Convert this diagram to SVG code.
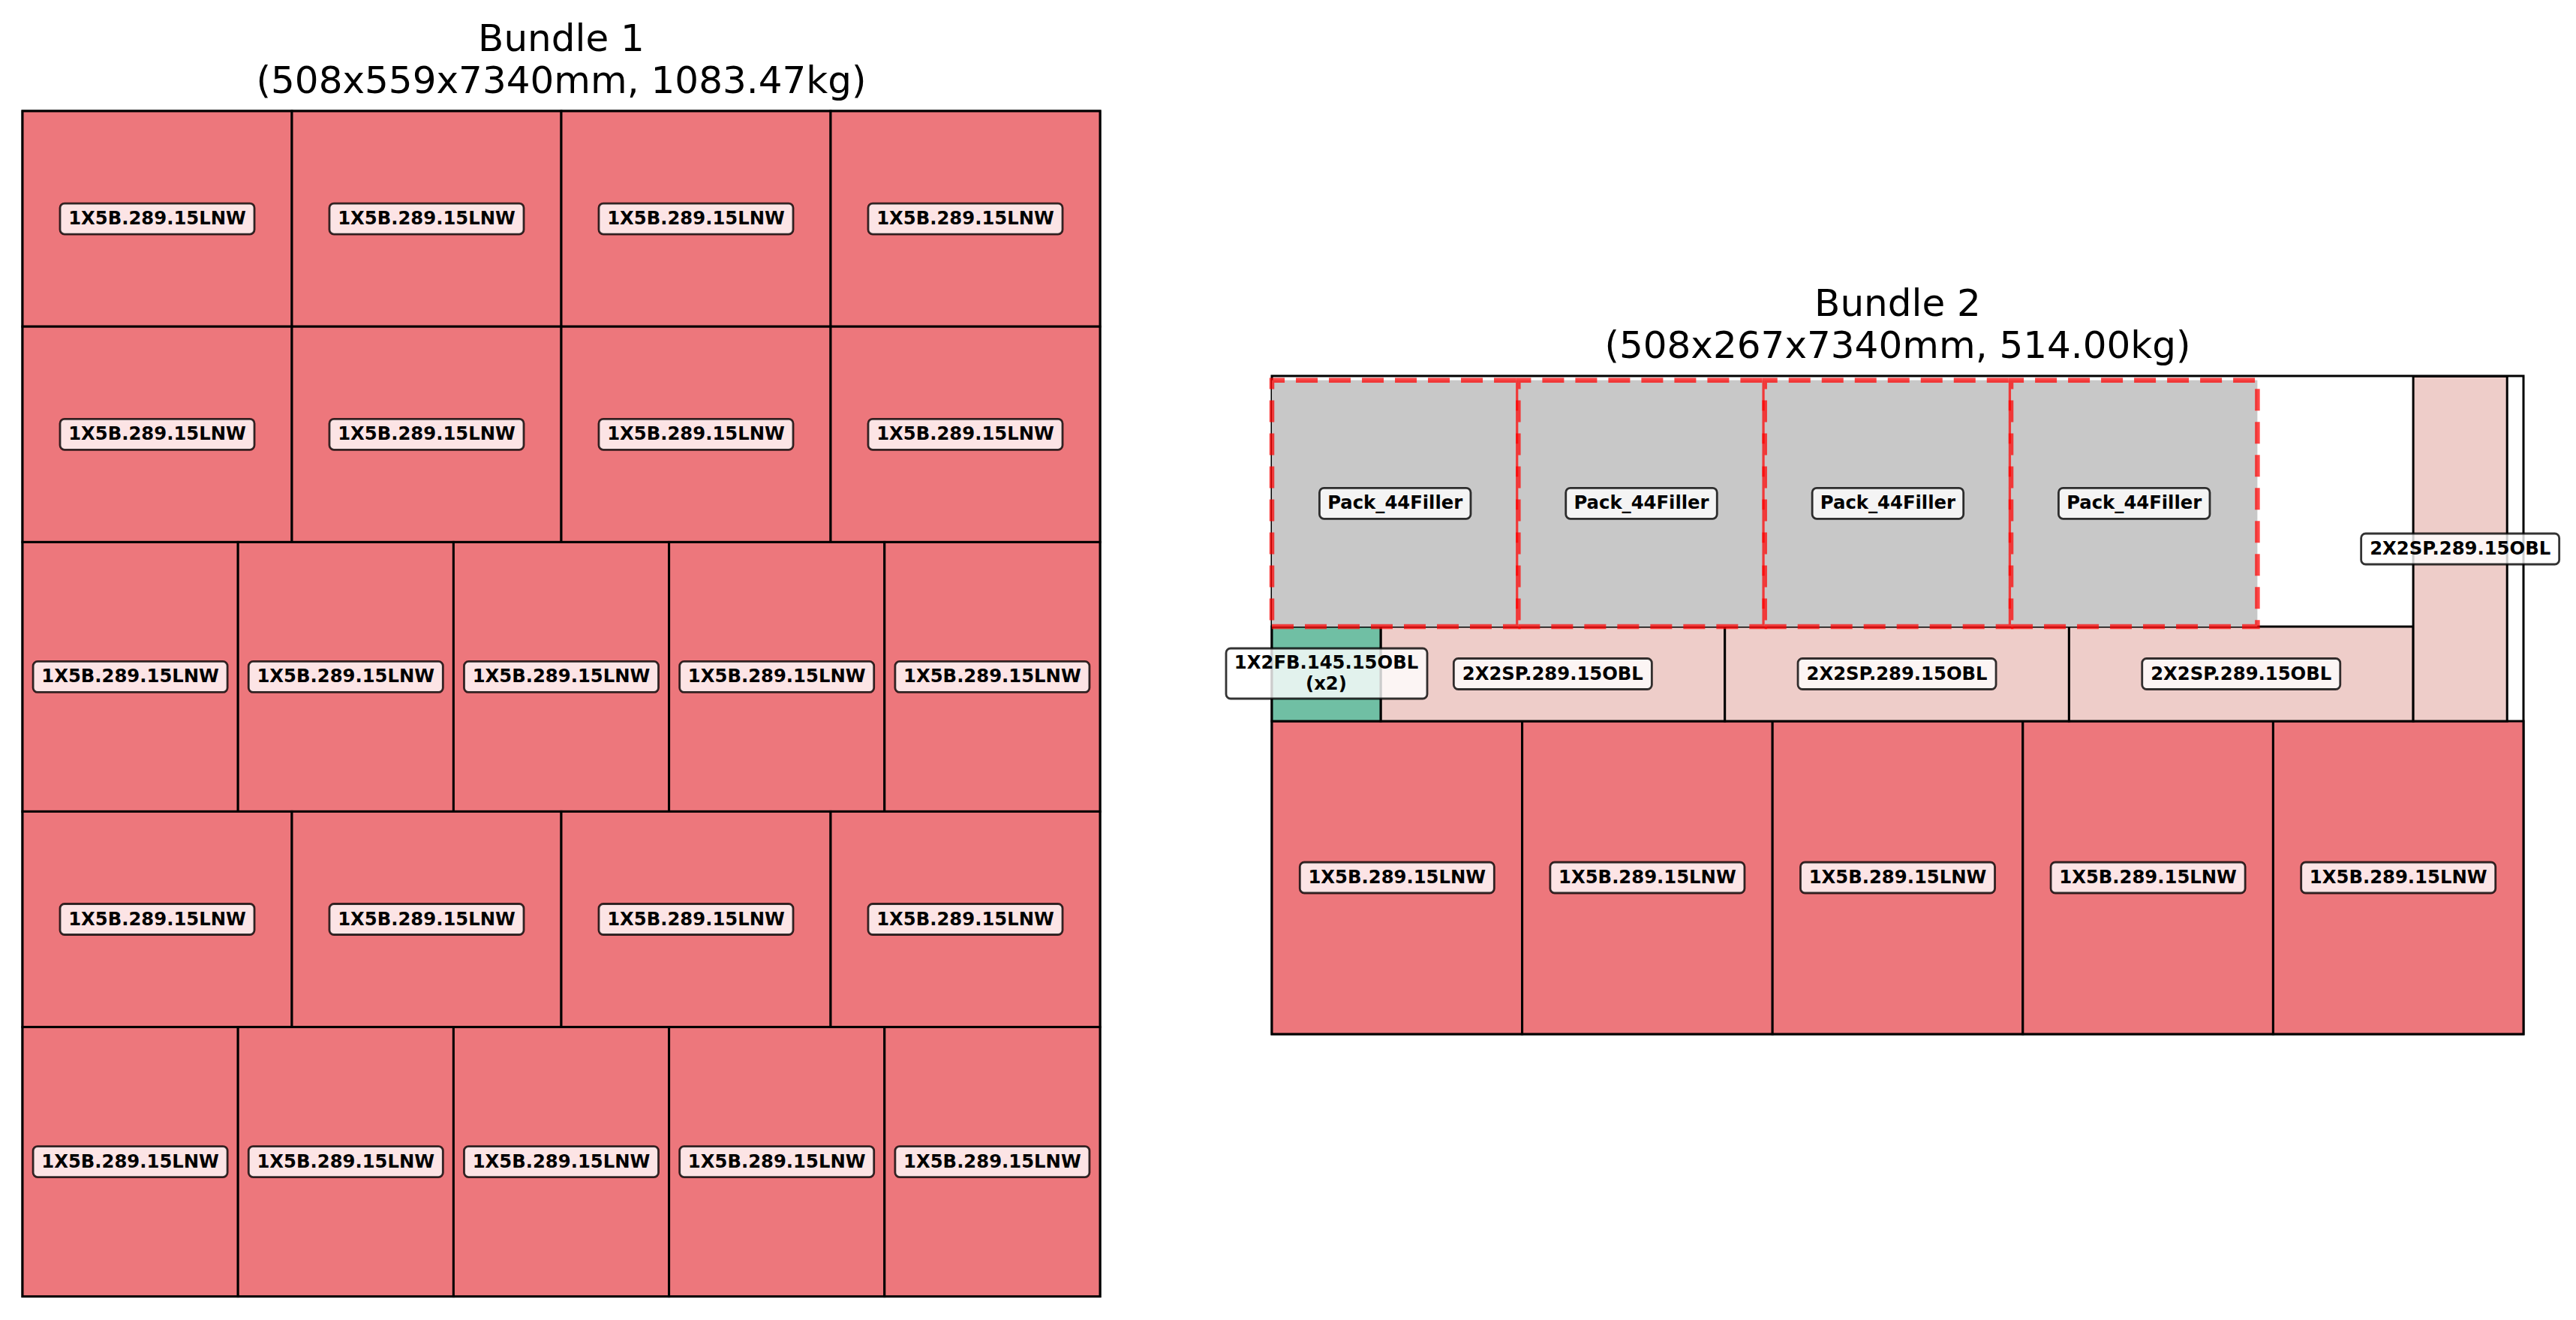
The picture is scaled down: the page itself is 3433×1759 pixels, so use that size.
<svg xmlns="http://www.w3.org/2000/svg" width="3433" height="1759" viewBox="0 0 3433 1759">
<defs>
<style>
.frame{fill:#fff;stroke:#000;stroke-width:3}
.cell{stroke:#000;stroke-width:3}
.red{fill:#ED777C}
.pink{fill:#EECDC9}
.green{fill:#70BFA4}
.filler{fill:#C8C8C8}
.dash{fill:none;stroke:#FF0000;stroke-opacity:0.72;stroke-width:6.5;stroke-dasharray:29 15}
.lb{fill:#fff;fill-opacity:0.8;stroke:#000;stroke-opacity:0.8;stroke-width:2.8}
.lt{font-family:"DejaVu Sans","Liberation Sans",sans-serif;font-weight:bold;font-size:24.3px;text-anchor:middle;fill:#000}
.title{font-family:"DejaVu Sans","Liberation Sans",sans-serif;font-size:50px;text-anchor:middle;fill:#000}
</style>
</defs>
<rect width="3433" height="1759" fill="#fff"/>

<g id="titles">
<text class="title" x="748" y="68">Bundle 1</text>
<text class="title" x="748" y="124">(508x559x7340mm, 1083.47kg)</text>
<text class="title" x="2529" y="421">Bundle 2</text>
<text class="title" x="2529" y="477">(508x267x7340mm, 514.00kg)</text>
</g>

<g id="bundle1-frame"><rect class="frame" x="30" y="148" width="1436" height="1579.6"/></g>
<g id="bundle2-frame"><rect class="frame" x="1695" y="501" width="1668" height="877"/></g>

<!-- Bundle 1 row 1 -->
<g id="b1-r1c1"><rect class="cell red" x="30" y="148" width="359" height="287.2"/><rect class="lb" x="80" y="271.1" width="259" height="41" rx="6"/><text class="lt" x="209.5" y="299.1">1X5B.289.15LNW</text></g>
<g id="b1-r1c2"><rect class="cell red" x="389" y="148" width="359" height="287.2"/><rect class="lb" x="439" y="271.1" width="259" height="41" rx="6"/><text class="lt" x="568.5" y="299.1">1X5B.289.15LNW</text></g>
<g id="b1-r1c3"><rect class="cell red" x="748" y="148" width="359" height="287.2"/><rect class="lb" x="798" y="271.1" width="259" height="41" rx="6"/><text class="lt" x="927.5" y="299.1">1X5B.289.15LNW</text></g>
<g id="b1-r1c4"><rect class="cell red" x="1107" y="148" width="359" height="287.2"/><rect class="lb" x="1157" y="271.1" width="259" height="41" rx="6"/><text class="lt" x="1286.5" y="299.1">1X5B.289.15LNW</text></g>
<!-- row 2 -->
<g id="b1-r2c1"><rect class="cell red" x="30" y="435.2" width="359" height="287.2"/><rect class="lb" x="80" y="558.3" width="259" height="41" rx="6"/><text class="lt" x="209.5" y="586.3">1X5B.289.15LNW</text></g>
<g id="b1-r2c2"><rect class="cell red" x="389" y="435.2" width="359" height="287.2"/><rect class="lb" x="439" y="558.3" width="259" height="41" rx="6"/><text class="lt" x="568.5" y="586.3">1X5B.289.15LNW</text></g>
<g id="b1-r2c3"><rect class="cell red" x="748" y="435.2" width="359" height="287.2"/><rect class="lb" x="798" y="558.3" width="259" height="41" rx="6"/><text class="lt" x="927.5" y="586.3">1X5B.289.15LNW</text></g>
<g id="b1-r2c4"><rect class="cell red" x="1107" y="435.2" width="359" height="287.2"/><rect class="lb" x="1157" y="558.3" width="259" height="41" rx="6"/><text class="lt" x="1286.5" y="586.3">1X5B.289.15LNW</text></g>
<!-- row 3 -->
<g id="b1-r3c1"><rect class="cell red" x="30" y="722.4" width="287.2" height="359"/><rect class="lb" x="44.1" y="881.4" width="259" height="41" rx="6"/><text class="lt" x="173.6" y="909.4">1X5B.289.15LNW</text></g>
<g id="b1-r3c2"><rect class="cell red" x="317.2" y="722.4" width="287.2" height="359"/><rect class="lb" x="331.3" y="881.4" width="259" height="41" rx="6"/><text class="lt" x="460.8" y="909.4">1X5B.289.15LNW</text></g>
<g id="b1-r3c3"><rect class="cell red" x="604.4" y="722.4" width="287.2" height="359"/><rect class="lb" x="618.5" y="881.4" width="259" height="41" rx="6"/><text class="lt" x="748" y="909.4">1X5B.289.15LNW</text></g>
<g id="b1-r3c4"><rect class="cell red" x="891.6" y="722.4" width="287.2" height="359"/><rect class="lb" x="905.7" y="881.4" width="259" height="41" rx="6"/><text class="lt" x="1035.2" y="909.4">1X5B.289.15LNW</text></g>
<g id="b1-r3c5"><rect class="cell red" x="1178.8" y="722.4" width="287.2" height="359"/><rect class="lb" x="1192.9" y="881.4" width="259" height="41" rx="6"/><text class="lt" x="1322.4" y="909.4">1X5B.289.15LNW</text></g>
<!-- row 4 -->
<g id="b1-r4c1"><rect class="cell red" x="30" y="1081.4" width="359" height="287.2"/><rect class="lb" x="80" y="1204.5" width="259" height="41" rx="6"/><text class="lt" x="209.5" y="1232.5">1X5B.289.15LNW</text></g>
<g id="b1-r4c2"><rect class="cell red" x="389" y="1081.4" width="359" height="287.2"/><rect class="lb" x="439" y="1204.5" width="259" height="41" rx="6"/><text class="lt" x="568.5" y="1232.5">1X5B.289.15LNW</text></g>
<g id="b1-r4c3"><rect class="cell red" x="748" y="1081.4" width="359" height="287.2"/><rect class="lb" x="798" y="1204.5" width="259" height="41" rx="6"/><text class="lt" x="927.5" y="1232.5">1X5B.289.15LNW</text></g>
<g id="b1-r4c4"><rect class="cell red" x="1107" y="1081.4" width="359" height="287.2"/><rect class="lb" x="1157" y="1204.5" width="259" height="41" rx="6"/><text class="lt" x="1286.5" y="1232.5">1X5B.289.15LNW</text></g>
<!-- row 5 -->
<g id="b1-r5c1"><rect class="cell red" x="30" y="1368.6" width="287.2" height="359"/><rect class="lb" x="44.1" y="1527.6" width="259" height="41" rx="6"/><text class="lt" x="173.6" y="1555.6">1X5B.289.15LNW</text></g>
<g id="b1-r5c2"><rect class="cell red" x="317.2" y="1368.6" width="287.2" height="359"/><rect class="lb" x="331.3" y="1527.6" width="259" height="41" rx="6"/><text class="lt" x="460.8" y="1555.6">1X5B.289.15LNW</text></g>
<g id="b1-r5c3"><rect class="cell red" x="604.4" y="1368.6" width="287.2" height="359"/><rect class="lb" x="618.5" y="1527.6" width="259" height="41" rx="6"/><text class="lt" x="748" y="1555.6">1X5B.289.15LNW</text></g>
<g id="b1-r5c4"><rect class="cell red" x="891.6" y="1368.6" width="287.2" height="359"/><rect class="lb" x="905.7" y="1527.6" width="259" height="41" rx="6"/><text class="lt" x="1035.2" y="1555.6">1X5B.289.15LNW</text></g>
<g id="b1-r5c5"><rect class="cell red" x="1178.8" y="1368.6" width="287.2" height="359"/><rect class="lb" x="1192.9" y="1527.6" width="259" height="41" rx="6"/><text class="lt" x="1322.4" y="1555.6">1X5B.289.15LNW</text></g>

<!-- Bundle 2 bottom row -->
<g id="b2-red1"><rect class="cell red" x="1695" y="961" width="333.6" height="417"/><rect class="lb" x="1732.3" y="1149" width="259" height="41" rx="6"/><text class="lt" x="1861.8" y="1177">1X5B.289.15LNW</text></g>
<g id="b2-red2"><rect class="cell red" x="2028.6" y="961" width="333.6" height="417"/><rect class="lb" x="2065.9" y="1149" width="259" height="41" rx="6"/><text class="lt" x="2195.4" y="1177">1X5B.289.15LNW</text></g>
<g id="b2-red3"><rect class="cell red" x="2362.2" y="961" width="333.6" height="417"/><rect class="lb" x="2399.5" y="1149" width="259" height="41" rx="6"/><text class="lt" x="2529" y="1177">1X5B.289.15LNW</text></g>
<g id="b2-red4"><rect class="cell red" x="2695.8" y="961" width="333.6" height="417"/><rect class="lb" x="2733.1" y="1149" width="259" height="41" rx="6"/><text class="lt" x="2862.6" y="1177">1X5B.289.15LNW</text></g>
<g id="b2-red5"><rect class="cell red" x="3029.4" y="961" width="333.6" height="417"/><rect class="lb" x="3066.7" y="1149" width="259" height="41" rx="6"/><text class="lt" x="3196.2" y="1177">1X5B.289.15LNW</text></g>

<!-- middle row -->
<g id="b2-sp1"><rect class="cell pink" x="1840" y="835" width="458.7" height="126"/><rect class="lb" x="1937.35" y="877.5" width="264" height="41" rx="6"/><text class="lt" x="2069.35" y="905.5">2X2SP.289.15OBL</text></g>
<g id="b2-sp2"><rect class="cell pink" x="2298.7" y="835" width="458.7" height="126"/><rect class="lb" x="2396.05" y="877.5" width="264" height="41" rx="6"/><text class="lt" x="2528.05" y="905.5">2X2SP.289.15OBL</text></g>
<g id="b2-sp3"><rect class="cell pink" x="2757.4" y="835" width="458.7" height="126"/><rect class="lb" x="2854.75" y="877.5" width="264" height="41" rx="6"/><text class="lt" x="2986.75" y="905.5">2X2SP.289.15OBL</text></g>
<g id="b2-spv"><rect class="cell pink" x="3216.1" y="501.5" width="125.1" height="459.5"/><rect class="lb" x="3146.65" y="711" width="264" height="41" rx="6"/><text class="lt" x="3278.65" y="739">2X2SP.289.15OBL</text></g>
<g id="b2-fb"><rect class="cell green" x="1695" y="835" width="145" height="126"/><rect class="lb" x="1634" y="864" width="268" height="67" rx="6"/><text class="lt" x="1767.5" y="891">1X2FB.145.15OBL</text><text class="lt" x="1767.5" y="918.5">(x2)</text></g>

<!-- fillers -->
<g id="b2-filler1"><rect class="filler" x="1695" y="506.65" width="328.35" height="328.35"/><path class="dash" d="M1695,835H2023.35V506.65H1695Z"/><rect class="lb" x="1758.45" y="650.3" width="201.5" height="41" rx="6"/><text class="lt" x="1859.2" y="678.3">Pack_44Filler</text></g>
<g id="b2-filler2"><rect class="filler" x="2023.35" y="506.65" width="328.35" height="328.35"/><path class="dash" d="M2023.35,835H2351.7V506.65H2023.35Z"/><rect class="lb" x="2086.75" y="650.3" width="201.5" height="41" rx="6"/><text class="lt" x="2187.5" y="678.3">Pack_44Filler</text></g>
<g id="b2-filler3"><rect class="filler" x="2351.7" y="506.65" width="328.35" height="328.35"/><path class="dash" d="M2351.7,835H2680.05V506.65H2351.7Z"/><rect class="lb" x="2415.15" y="650.3" width="201.5" height="41" rx="6"/><text class="lt" x="2515.9" y="678.3">Pack_44Filler</text></g>
<g id="b2-filler4"><rect class="filler" x="2680.05" y="506.65" width="328.35" height="328.35"/><path class="dash" d="M2680.05,835H3008.4V506.65H2680.05Z"/><rect class="lb" x="2743.45" y="650.3" width="201.5" height="41" rx="6"/><text class="lt" x="2844.2" y="678.3">Pack_44Filler</text></g>

<g id="connectors"/>
</svg>
